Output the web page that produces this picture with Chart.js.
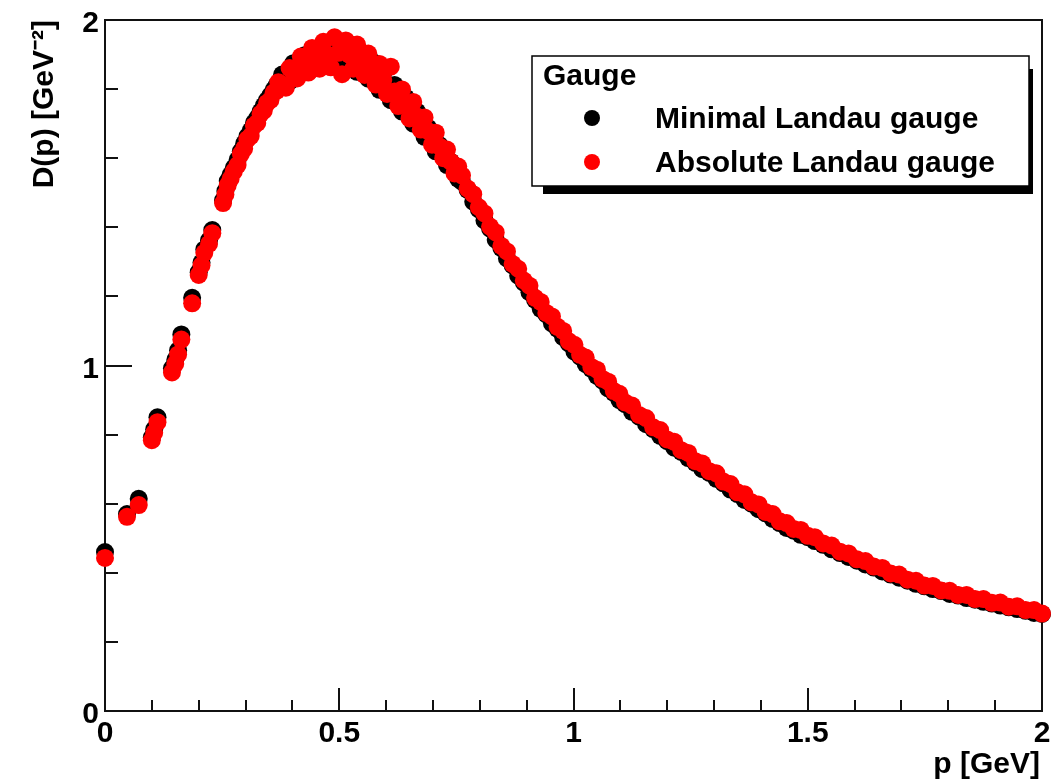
<!DOCTYPE html>
<html>
<head>
<meta charset="utf-8">
<script src="https://cdn.jsdelivr.net/npm/chart.js@4.4.1/dist/chart.umd.min.js"></script>
<style>
  html, body { margin: 0; padding: 0; background: #fff; }
</style>
</head>
<body>
<canvas id="chart" width="1051" height="782"></canvas>
<script>
// momentum values p [GeV], shared by both gauges
const momenta = [
  0.000, 0.047, 0.072, 0.100, 0.105, 0.112, 0.143, 0.150, 0.156, 0.163,
  0.186, 0.200, 0.206, 0.212, 0.222, 0.229, 0.252, 0.257, 0.262,
  0.268, 0.275, 0.283, 0.290, 0.297, 0.304, 0.311, 0.318, 0.325, 0.332,
  0.339, 0.346, 0.353, 0.360, 0.366,
  0.370, 0.378, 0.386, 0.394, 0.402, 0.410, 0.418, 0.426, 0.434, 0.442,
  0.450, 0.458, 0.466, 0.474, 0.482, 0.490, 0.498, 0.506, 0.514, 0.522,
  0.530, 0.538, 0.546, 0.554, 0.562, 0.570, 0.578, 0.586, 0.594, 0.602,
  0.610, 0.618, 0.626, 0.634, 0.642, 0.650, 0.658, 0.666, 0.674, 0.682,
  0.690, 0.698, 0.706, 0.714, 0.722, 0.730, 0.738, 0.746, 0.754,
  0.762, 0.774, 0.786, 0.798, 0.810, 0.822, 0.834, 0.846, 0.858, 0.870,
  0.882, 0.894, 0.906, 0.918, 0.930, 0.942, 0.954, 0.966, 0.978, 0.990,
  1.002, 1.014, 1.026, 1.038, 1.050, 1.062, 1.074, 1.086, 1.098,
  1.110, 1.125, 1.140, 1.155, 1.170, 1.185, 1.200, 1.215, 1.230, 1.245,
  1.260, 1.275, 1.290, 1.305, 1.320, 1.335, 1.350, 1.365, 1.380, 1.395,
  1.410, 1.425, 1.440, 1.455, 1.470, 1.485, 1.500,
  1.515, 1.533, 1.551, 1.569, 1.587, 1.605, 1.623, 1.641, 1.659, 1.677,
  1.695, 1.713, 1.731, 1.749, 1.767, 1.785, 1.803, 1.821, 1.839, 1.857,
  1.875, 1.893, 1.911, 1.929, 1.947, 1.965, 1.983, 2.000
];

// D(p) [GeV^-2], minimal Landau gauge
const minimalLandau = [
  0.460, 0.570, 0.614, 0.792, 0.815, 0.850, 0.992, 1.016, 1.044, 1.090,
  1.196, 1.270, 1.298, 1.336, 1.362, 1.392, 1.478, 1.505, 1.534,
  1.552, 1.572, 1.595, 1.620, 1.642, 1.663, 1.680, 1.702, 1.716, 1.735,
  1.752, 1.768, 1.782, 1.798, 1.810,
  1.812, 1.842, 1.830, 1.822, 1.875, 1.862, 1.848, 1.898, 1.884, 1.858,
  1.915, 1.898, 1.866, 1.928, 1.906, 1.870, 1.932, 1.900, 1.872, 1.930,
  1.890, 1.850, 1.908, 1.868, 1.830, 1.880, 1.838, 1.798, 1.848, 1.802,
  1.768, 1.812, 1.770, 1.735, 1.775, 1.733, 1.700, 1.735, 1.695, 1.662,
  1.688, 1.652, 1.620, 1.638, 1.612, 1.580, 1.590, 1.560, 1.540,
  1.532, 1.508, 1.474, 1.452, 1.420, 1.396, 1.364, 1.340, 1.310, 1.290,
  1.260, 1.240, 1.212, 1.190, 1.164, 1.148, 1.122, 1.106, 1.082, 1.064,
  1.040, 1.026, 1.004, 0.990, 0.970, 0.956, 0.934, 0.921, 0.900,
  0.888, 0.866, 0.852, 0.830, 0.816, 0.796, 0.781, 0.762, 0.750, 0.732,
  0.718, 0.700, 0.689, 0.672, 0.659, 0.641, 0.628, 0.611, 0.600, 0.584,
  0.572, 0.556, 0.544, 0.530, 0.522, 0.510, 0.503,
  0.492, 0.481, 0.468, 0.457, 0.446, 0.435, 0.424, 0.415, 0.404, 0.395,
  0.386, 0.377, 0.368, 0.361, 0.353, 0.347, 0.339, 0.334, 0.327, 0.322,
  0.316, 0.311, 0.305, 0.300, 0.295, 0.290, 0.284, 0.281
];

// D(p) [GeV^-2], absolute Landau gauge
const absoluteLandau = [
  0.443, 0.562, 0.596, 0.784, 0.805, 0.836, 0.980, 1.005, 1.032, 1.075,
  1.180, 1.262, 1.290, 1.326, 1.352, 1.383, 1.470, 1.495, 1.522,
  1.540, 1.562, 1.580, 1.612, 1.628, 1.655, 1.664, 1.694, 1.702, 1.728,
  1.738, 1.760, 1.768, 1.790, 1.795,
  1.820, 1.812, 1.804, 1.861, 1.847, 1.831, 1.894, 1.871, 1.848, 1.919,
  1.889, 1.859, 1.937, 1.900, 1.863, 1.950, 1.905, 1.843, 1.941, 1.899,
  1.859, 1.929, 1.883, 1.841, 1.903, 1.858, 1.813, 1.873, 1.827, 1.786,
  1.865, 1.793, 1.751, 1.799, 1.757, 1.715, 1.763, 1.721, 1.683, 1.718,
  1.678, 1.639, 1.674, 1.634, 1.600, 1.625, 1.590, 1.556, 1.576,
  1.550, 1.512, 1.496, 1.458, 1.440, 1.402, 1.385, 1.346, 1.330, 1.294,
  1.280, 1.246, 1.231, 1.196, 1.184, 1.152, 1.142, 1.112, 1.100, 1.070,
  1.060, 1.031, 1.023, 0.996, 0.988, 0.961, 0.953, 0.926, 0.918,
  0.893, 0.884, 0.857, 0.848, 0.821, 0.813, 0.786, 0.779, 0.755, 0.747,
  0.723, 0.716, 0.694, 0.688, 0.664, 0.657, 0.633, 0.627, 0.604, 0.598,
  0.576, 0.570, 0.549, 0.544, 0.527, 0.524, 0.507,
  0.503, 0.485, 0.479, 0.461, 0.456, 0.439, 0.434, 0.418, 0.414, 0.398,
  0.395, 0.380, 0.377, 0.363, 0.362, 0.349, 0.348, 0.336, 0.336, 0.324,
  0.324, 0.313, 0.314, 0.302, 0.303, 0.292, 0.292, 0.282
];

const seriesNames = ['Minimal Landau gauge', 'Absolute Landau gauge'];
const legendTitle = 'Gauge';

const xMajorTicks = [0, 0.5, 1, 1.5, 2];
const xTickLabels = ['0', '0.5', '1', '1.5', '2'];
const xMinorTicks = [0.1, 0.2, 0.3, 0.4, 0.6, 0.7, 0.8, 0.9, 1.1, 1.2, 1.3, 1.4, 1.6, 1.7, 1.8, 1.9];
const yMajorTicks = [0, 1, 2];
const yTickLabels = ['0', '1', '2'];
const yMinorTicks = [0.2, 0.4, 0.6, 0.8, 1.2, 1.4, 1.6, 1.8];
const xTitle = 'p [GeV]';
const yTitle = 'D(p) [GeV⁻²]';

const FONT = 'bold 30px "Liberation Sans", Arial, Helvetica, sans-serif';

function toPoints(ys) {
  return momenta.map((p, i) => ({ x: p, y: ys[i] }));
}

// ROOT-like frame: box, inward ticks, labels, titles
const rootFrame = {
  id: 'rootFrame',
  beforeDatasetsDraw(chart) {
    const { ctx, chartArea: a, scales: { x, y } } = chart;
    ctx.save();
    ctx.strokeStyle = '#111';
    ctx.lineWidth = 2;
    ctx.strokeRect(a.left, a.top, a.right - a.left, a.bottom - a.top);

    ctx.beginPath();
    xMajorTicks.forEach(v => {
      const px = Math.round(x.getPixelForValue(v));
      ctx.moveTo(px, a.bottom); ctx.lineTo(px, a.bottom - 23);
    });
    xMinorTicks.forEach(v => {
      const px = Math.round(x.getPixelForValue(v));
      ctx.moveTo(px, a.bottom); ctx.lineTo(px, a.bottom - 11);
    });
    yMajorTicks.forEach(v => {
      const py = Math.round(y.getPixelForValue(v));
      ctx.moveTo(a.left, py); ctx.lineTo(a.left + 27, py);
    });
    yMinorTicks.forEach(v => {
      const py = Math.round(y.getPixelForValue(v));
      ctx.moveTo(a.left, py); ctx.lineTo(a.left + 13, py);
    });
    ctx.stroke();

    ctx.fillStyle = '#000';
    ctx.font = FONT;
    ctx.textBaseline = 'alphabetic';
    ctx.textAlign = 'center';
    xMajorTicks.forEach((v, i) => {
      ctx.fillText(xTickLabels[i], x.getPixelForValue(v), a.bottom + 31);
    });
    ctx.textAlign = 'right';
    yMajorTicks.forEach((v, i) => {
      ctx.fillText(yTickLabels[i], a.left - 6, y.getPixelForValue(v) + 12);
    });

    ctx.textAlign = 'right';
    ctx.fillText(xTitle, a.right - 2, a.bottom + 62);

    ctx.save();
    ctx.translate(53, a.top);
    ctx.rotate(-Math.PI / 2);
    ctx.textAlign = 'right';
    ctx.fillText(yTitle, 0, 0);
    ctx.restore();
    ctx.restore();
  }
};

// legend box with shadow, like TLegend
const rootLegend = {
  id: 'rootLegend',
  afterDatasetsDraw(chart) {
    const { ctx } = chart;
    const bx = 532, by = 56, bw = 497, bh = 130;
    ctx.save();
    ctx.fillStyle = '#000';
    ctx.fillRect(bx + 11, by + bh, bw - 7, 8);
    ctx.fillRect(bx + bw, by + 13, 4, bh - 5);
    ctx.fillStyle = '#fff';
    ctx.fillRect(bx, by, bw, bh);
    ctx.strokeStyle = '#000';
    ctx.lineWidth = 1.5;
    ctx.strokeRect(bx, by, bw, bh);

    ctx.font = FONT;
    ctx.fillStyle = '#000';
    ctx.textAlign = 'left';
    ctx.textBaseline = 'alphabetic';
    ctx.fillText(legendTitle, 543, 85);

    const rows = [118, 162];
    chart.data.datasets.forEach((ds, i) => {
      ctx.beginPath();
      ctx.fillStyle = ds.backgroundColor;
      ctx.arc(592, rows[i], 8, 0, Math.PI * 2);
      ctx.fill();
      ctx.fillStyle = '#000';
      ctx.fillText(ds.label, 655, rows[i] + 10);
    });
    ctx.restore();
  }
};

new Chart(document.getElementById('chart'), {
  type: 'scatter',
  data: {
    datasets: [
      {
        label: seriesNames[0],
        data: toPoints(minimalLandau),
        backgroundColor: '#000000',
        borderWidth: 0,
        pointRadius: 9,
        order: 2,
        clip: false
      },
      {
        label: seriesNames[1],
        data: toPoints(absoluteLandau),
        backgroundColor: '#ff0000',
        borderWidth: 0,
        pointRadius: 9,
        order: 1,
        clip: false
      }
    ]
  },
  options: {
    responsive: false,
    devicePixelRatio: 1,
    animation: false,
    events: [],
    layout: { padding: { left: 105, top: 20, right: 3, bottom: 71 } },
    plugins: { legend: { display: false }, tooltip: { enabled: false } },
    scales: {
      x: { type: 'linear', min: 0, max: 2, display: false },
      y: { type: 'linear', min: 0, max: 2, display: false }
    }
  },
  plugins: [rootFrame, rootLegend]
});
</script>
</body>
</html>
